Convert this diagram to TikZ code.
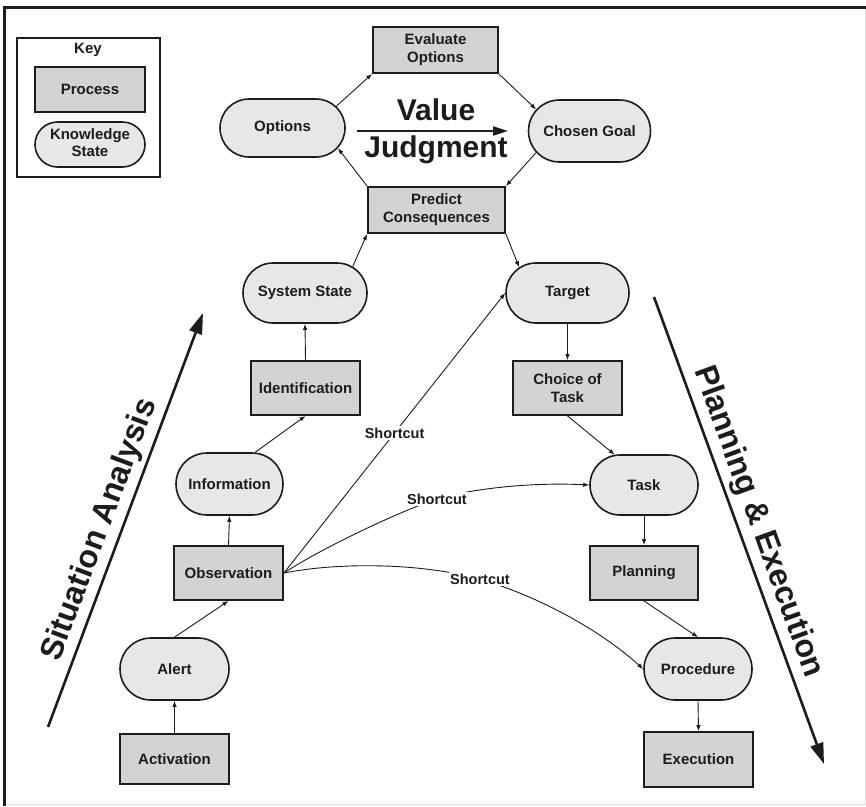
\documentclass[tikz,border=0pt]{standalone}
\usepackage{fontspec}
\setmainfont{Liberation Sans}
\usetikzlibrary{shapes.misc,arrows.meta}
\definecolor{procfill}{RGB}{211,211,213}
\definecolor{statefill}{RGB}{231,231,233}
\definecolor{ink}{RGB}{28,28,28}
\newcommand\zw[1]{\makebox[0pt]{#1}}
\newcommand\zwtwo[2]{\makebox[0pt]{\begin{tabular}{@{}c@{}}#1\\[-1pt]#2\end{tabular}}}
\begin{document}
\begin{tikzpicture}[x=1pt,y=-1pt,
  every node/.style={font=\fontsize{15}{18}\selectfont\bfseries, text=ink},
  proc/.style={rectangle, draw=ink, line width=1.8pt, fill=procfill, inner sep=0pt, align=center},
  kstate/.style={rounded rectangle, draw=ink, line width=1.6pt, fill=statefill, inner sep=0pt},
  conn/.style={draw=ink, line width=0.9pt, -{Latex[length=6pt,width=4.5pt]}},
  bigarrow/.style={draw=ink, line width=2.6pt, -{Triangle[length=21pt,width=13pt]}},
  vjarrow/.style={draw=ink, line width=2pt, -{Triangle[length=15pt,width=9pt]}},
  sclabel/.style={fill=white, inner sep=1.5pt, font=\fontsize{14.5}{17}\selectfont\bfseries},
  bigtext/.style={font=\fontsize{30}{34}\selectfont\bfseries, inner sep=0pt},
  sidetext/.style={font=\fontsize{32}{36}\selectfont\bfseries, inner sep=0pt}]
\useasboundingbox (0,0) rectangle (866,806);
\fill[white] (0,0) rectangle (866,806);
% frame
\draw[gray!25, line width=0.8pt] (4,7) rectangle (865,804);
\draw[ink, line width=2.4pt] (4.3,806) -- (4.3,7.3) -- (866,7.3);

% key
\draw[ink, line width=1.8pt] (17,38) rectangle (160,177);
\node (keyt) at (88,50) {Key};
\node[proc, minimum width=110pt, minimum height=45pt] (keyp) at (90,89.5) {Process};
\node[kstate, minimum width=110pt, minimum height=45pt] (keyk) at (90,144.5) {\zwtwo{Knowledge}{State}};

% top cycle
\node[proc, minimum width=125pt, minimum height=46pt] (eval) at (435.5,50) {Evaluate\\Options};
\node[kstate, minimum width=125pt, minimum height=58pt] (opt) at (282.5,128) {\zw{Options}};
\node[kstate, minimum width=122pt, minimum height=62pt] (goal) at (589.5,131) {\zw{Chosen Goal}};
\node[proc, minimum width=137pt, minimum height=46pt] (pred) at (436.5,210) {Predict\\Consequences};
\node[bigtext, anchor=base] (val) at (436,120) {Value};
\node[bigtext, anchor=base] (judg) at (436,157) {Judgment};
\coordinate (vjs) at (357,131);
\coordinate (vje) at (508,131);
\draw[vjarrow] (vjs) -- (vje);

% left column
\node[kstate, minimum width=124pt, minimum height=60pt] (sys) at (305,293) {\zw{System State}};
\node[proc, minimum width=109pt, minimum height=54pt] (ident) at (305.5,388) {Identification};
\node[kstate, minimum width=107pt, minimum height=62pt] (info) at (229.5,484) {\zw{Information}};
\node[proc, minimum width=109pt, minimum height=54pt] (obs) at (228.5,573) {Observation};
\node[kstate, minimum width=109pt, minimum height=62pt] (alert) at (174.5,669) {\zw{Alert}};
\node[proc, minimum width=109pt, minimum height=50pt] (act) at (174.5,759) {Activation};

% right column
\node[kstate, minimum width=123pt, minimum height=60pt] (target) at (567.5,293) {\zw{Target}};
\node[proc, minimum width=109pt, minimum height=54pt] (choice) at (567.5,388) {Choice of\\Task};
\node[kstate, minimum width=108pt, minimum height=60pt] (task) at (644,485) {\zw{Task}};
\node[proc, minimum width=108pt, minimum height=54pt] (plan) at (644,573) {Planning};
\node[kstate, minimum width=108pt, minimum height=62pt] (proc) at (698,669) {\zw{Procedure}};
\node[proc, minimum width=109pt, minimum height=55pt] (exec) at (698.5,759.5) {Execution};

% connectors
\draw[conn] (act.north) -- (alert.south);
\draw[conn] (alert.north) -- (obs.south);
\draw[conn] (obs.north) -- (info.south);
\draw[conn] (info.51) -- (ident.south);
\draw[conn] (ident.north) -- (sys.south);
\draw[conn] (sys.29) -- (pred.south west);
\draw[conn] (pred.north west) -- (opt.-20);
\draw[conn] (opt.22) -- (eval.south west);
\draw[conn] (eval.south east) -- (goal.158);
\draw[conn] (goal.202) -- (pred.north east);
\draw[conn] (pred.south east) -- (target.152);
\draw[conn] (target.south) -- (choice.north);
\draw[conn] (choice.south) -- (task.134);
\draw[conn] (task.south) -- (plan.north);
\draw[conn] (plan.south) -- (proc.north);
\draw[conn] (proc.south) -- (exec.north);

% shortcuts
\coordinate (sc2p) at (437,499);
\coordinate (sc3p) at (480,579);
\draw[conn] (obs.east) -- node[sclabel, pos=0.5] (sc1) {Shortcut} (target.west);
\draw[conn] (obs.east) .. controls (320,549) and (400,511) .. (sc2p)
   .. controls (470,489) and (530,482) .. (task.west);
\node[sclabel] (sc2) at (sc2p) {Shortcut};
\draw[conn] (obs.east) .. controls (340,562) and (420,563) .. (sc3p)
   .. controls (540,597) and (600,630) .. (proc.west);
\node[sclabel] (sc3) at (sc3p) {Shortcut};

% big arrows
\coordinate (sa1) at (48,727);
\coordinate (sa2) at (203,313);
\draw[bigarrow] (sa1) -- (sa2);
\node[sidetext, rotate=69.5] (satext) at (100,530) {Situation Analysis};
\coordinate (pe1) at (654,297);
\coordinate (pe2) at (824,764);
\draw[bigarrow] (pe1) -- (pe2);
\node[sidetext, rotate=-70] (petext) at (758,522) {Planning \& Execution};
\end{tikzpicture}
\end{document}
